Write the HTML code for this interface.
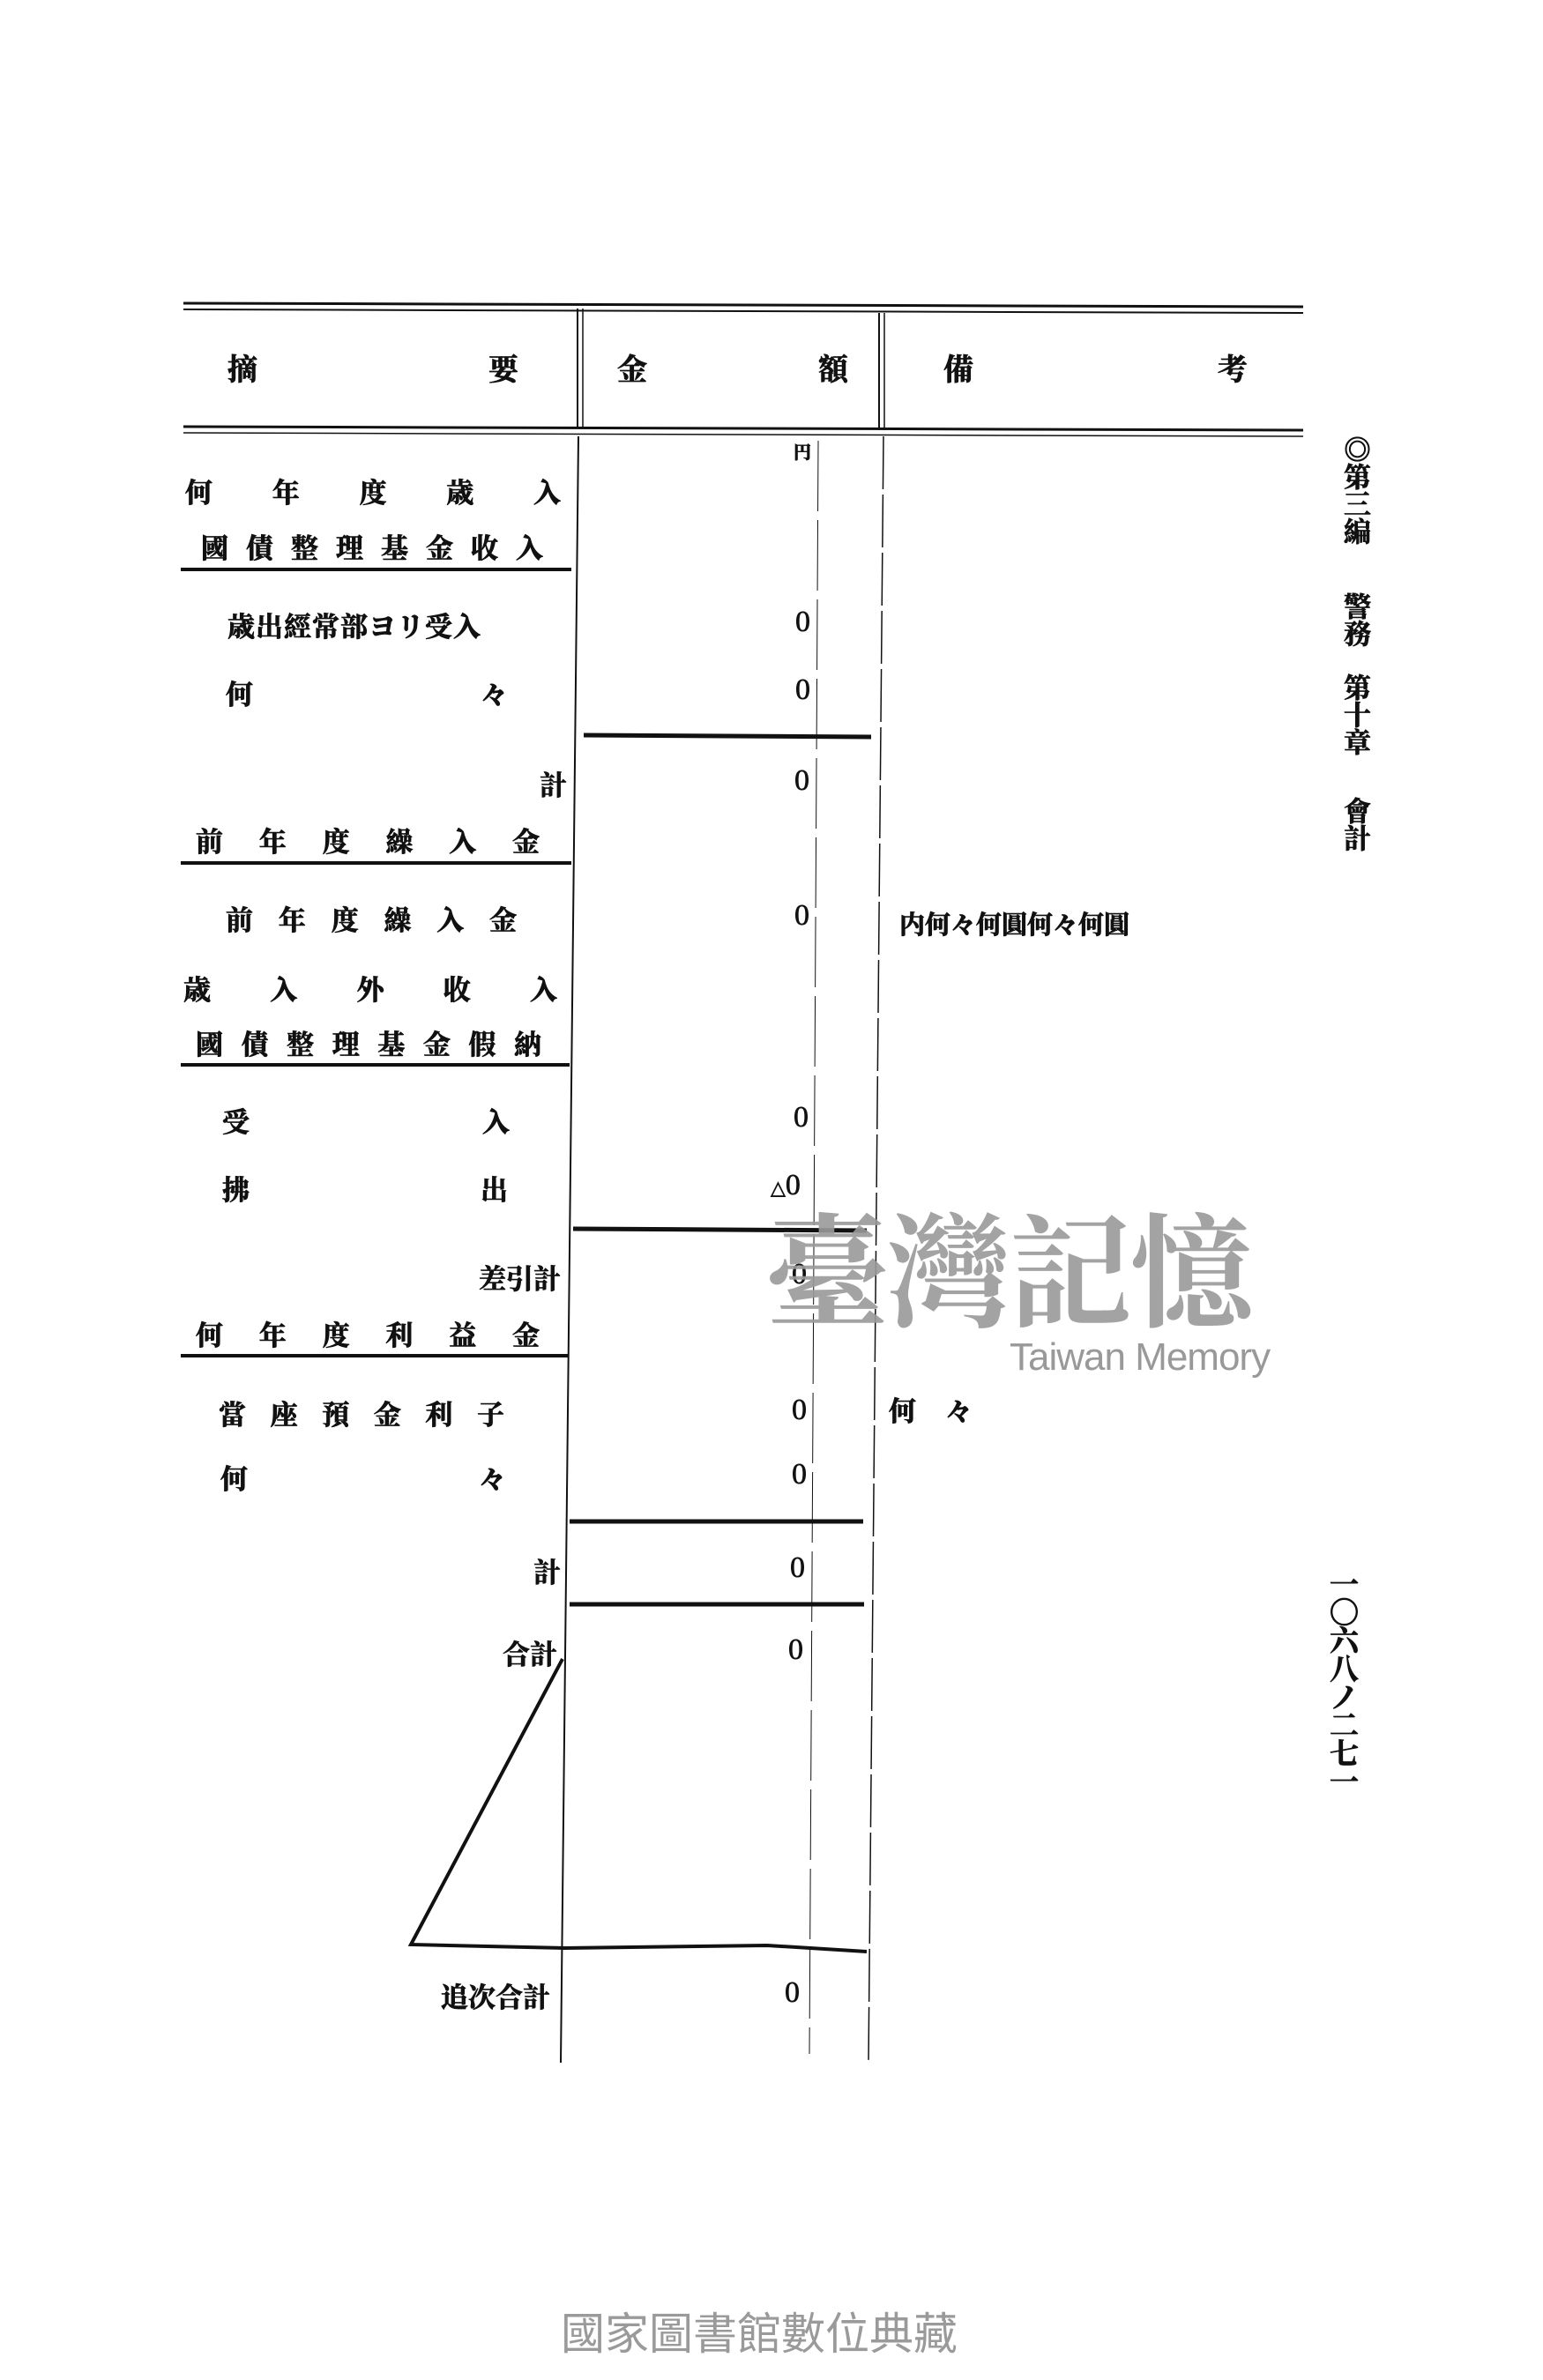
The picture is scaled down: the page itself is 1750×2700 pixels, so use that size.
<!DOCTYPE html>
<html><head><meta charset="utf-8">
<style>
html,body{margin:0;padding:0;background:#fff;}
body{width:1750px;height:2700px;position:relative;overflow:hidden;font-family:"Liberation Serif","Noto Serif CJK SC","Noto Sans CJK JP",serif;color:#111;}
.t{position:absolute;font-size:31px;font-weight:bold;line-height:36px;white-space:nowrap;-webkit-text-stroke:0.8px #111;}
.j{position:absolute;display:flex;justify-content:space-between;font-size:31px;font-weight:bold;line-height:36px;-webkit-text-stroke:0.8px #111;}
.h{font-size:34px;}
.z{position:absolute;font-size:34px;font-family:"Liberation Serif",serif;line-height:36px;-webkit-text-stroke:0.6px #111;}
.v{position:absolute;writing-mode:vertical-rl;font-weight:bold;font-size:31px;line-height:36px;-webkit-text-stroke:0.8px #111;}
</style></head><body>
<svg width="1750" height="2700" style="position:absolute;left:0;top:0">
<g stroke="#111" fill="none">
<line x1="208" y1="344" x2="1478" y2="348" stroke-width="3"/>
<line x1="208" y1="351" x2="1478" y2="355" stroke-width="2"/>
<line x1="208" y1="484" x2="1478" y2="488" stroke-width="3"/>
<line x1="208" y1="491" x2="1478" y2="495" stroke-width="1.5"/>
<line x1="655" y1="350" x2="655" y2="485" stroke-width="2"/>
<line x1="661" y1="350" x2="661" y2="485" stroke-width="1.5"/>
<line x1="997" y1="355" x2="997" y2="488" stroke-width="2"/>
<line x1="1003" y1="355" x2="1003" y2="488" stroke-width="1.5"/>
<line x1="656" y1="495" x2="636" y2="2340" stroke-width="2"/>
<line x1="1002" y1="495" x2="985" y2="2340" stroke-width="1.5" stroke-dasharray="60 6"/>
<line x1="928" y1="500" x2="918" y2="2330" stroke-width="1" stroke-dasharray="80 10"/>
<line x1="205" y1="646" x2="648" y2="646" stroke-width="4"/>
<line x1="205" y1="979" x2="648" y2="979" stroke-width="4"/>
<line x1="205" y1="1208" x2="646" y2="1208" stroke-width="4"/>
<line x1="205" y1="1538" x2="644" y2="1538" stroke-width="4"/>
<line x1="662" y1="834" x2="988" y2="836" stroke-width="5"/>
<line x1="650" y1="1394" x2="983" y2="1396" stroke-width="5"/>
<line x1="646" y1="1726" x2="979" y2="1726" stroke-width="5"/>
<line x1="646" y1="1820" x2="980" y2="1820" stroke-width="5"/>
<polyline points="638,1882 466,2206 640,2210 870,2207 983,2214" stroke-width="4"/>
</g>
</svg>
<div class="j h" style="left:258px;top:403px;width:330px"><span>摘</span><span>要</span></div>
<div class="j h" style="left:700px;top:403px;width:262px"><span>金</span><span>額</span></div>
<div class="j h" style="left:1070px;top:403px;width:345px"><span>備</span><span>考</span></div>
<div class="t" style="left:900px;top:496px;font-size:20px">円</div>

<div class="j" style="left:210px;top:542px;width:426px"><span>何</span><span>年</span><span>度</span><span>歳</span><span>入</span></div>
<div class="j" style="left:228px;top:605px;width:388px"><span>國</span><span>債</span><span>整</span><span>理</span><span>基</span><span>金</span><span>收</span><span>入</span></div>
<div class="t" style="left:258px;top:694px;letter-spacing:1px">歳出經常部ヨリ受入</div>
<div class="j" style="left:256px;top:771px;width:320px"><span>何</span><span>々</span></div>
<div class="t" style="left:612px;top:874px">計</div>
<div class="j" style="left:222px;top:938px;width:390px"><span>前</span><span>年</span><span>度</span><span>繰</span><span>入</span><span>金</span></div>
<div class="j" style="left:256px;top:1027px;width:330px"><span>前</span><span>年</span><span>度</span><span>繰</span><span>入</span><span>金</span></div>
<div class="j" style="left:208px;top:1106px;width:424px"><span>歳</span><span>入</span><span>外</span><span>收</span><span>入</span></div>
<div class="j" style="left:222px;top:1168px;width:392px"><span>國</span><span>債</span><span>整</span><span>理</span><span>基</span><span>金</span><span>假</span><span>納</span></div>
<div class="j" style="left:252px;top:1256px;width:326px"><span>受</span><span>入</span></div>
<div class="j" style="left:252px;top:1333px;width:324px"><span>拂</span><span>出</span></div>
<div class="t" style="left:543px;top:1434px">差引計</div>
<div class="j" style="left:222px;top:1498px;width:390px"><span>何</span><span>年</span><span>度</span><span>利</span><span>益</span><span>金</span></div>
<div class="j" style="left:248px;top:1588px;width:324px"><span>當</span><span>座</span><span>預</span><span>金</span><span>利</span><span>子</span></div>
<div class="j" style="left:250px;top:1661px;width:324px"><span>何</span><span>々</span></div>
<div class="t" style="left:605px;top:1767px">計</div>
<div class="t" style="left:570px;top:1860px">合計</div>
<div class="t" style="left:500px;top:2249px">追次合計</div>

<div class="z" style="left:902px;top:688px">0</div>
<div class="z" style="left:902px;top:765px">0</div>
<div class="z" style="left:901px;top:868px">0</div>
<div class="z" style="left:901px;top:1021px">0</div>
<div class="z" style="left:900px;top:1250px">0</div>
<div class="z" style="left:874px;top:1327px"><span style="font-size:22px">△</span>0</div>
<div class="z" style="left:898px;top:1428px">0</div>
<div class="z" style="left:898px;top:1582px">0</div>
<div class="z" style="left:898px;top:1655px">0</div>
<div class="z" style="left:896px;top:1761px">0</div>
<div class="z" style="left:894px;top:1854px">0</div>
<div class="z" style="left:890px;top:2243px">0</div>

<div class="t" style="left:1020px;top:1032px;font-size:29px">内何々何圓何々何圓</div>
<div class="j" style="left:1008px;top:1584px;width:95px"><span>何</span><span>々</span></div>

<div class="v" style="left:1518px;top:494px">◎第三編</div>
<div class="v" style="left:1518px;top:672px">警務</div>
<div class="v" style="left:1518px;top:764px">第十章</div>
<div class="v" style="left:1518px;top:904px">會計</div>
<div class="v" style="left:1503px;top:1780px;font-size:33px;line-height:36px;letter-spacing:-1px">一〇六八ノ二七一</div>

<div style="position:absolute;left:868px;top:1345px;font-size:140px;line-height:180px;color:#9a9a9a;font-family:'Noto Serif CJK SC',serif;font-weight:bold;letter-spacing:-2px;opacity:.9">臺灣記憶</div>
<div style="position:absolute;left:1145px;top:1515px;font-size:44px;color:#999;font-family:'Liberation Sans',sans-serif;letter-spacing:-1px">Taiwan Memory</div>

<div style="position:absolute;left:636px;top:2618px;font-size:50px;line-height:60px;color:#9a9a9a;font-family:'Liberation Sans','Noto Sans CJK TC',sans-serif">國家圖書館數位典藏</div>
</body></html>
